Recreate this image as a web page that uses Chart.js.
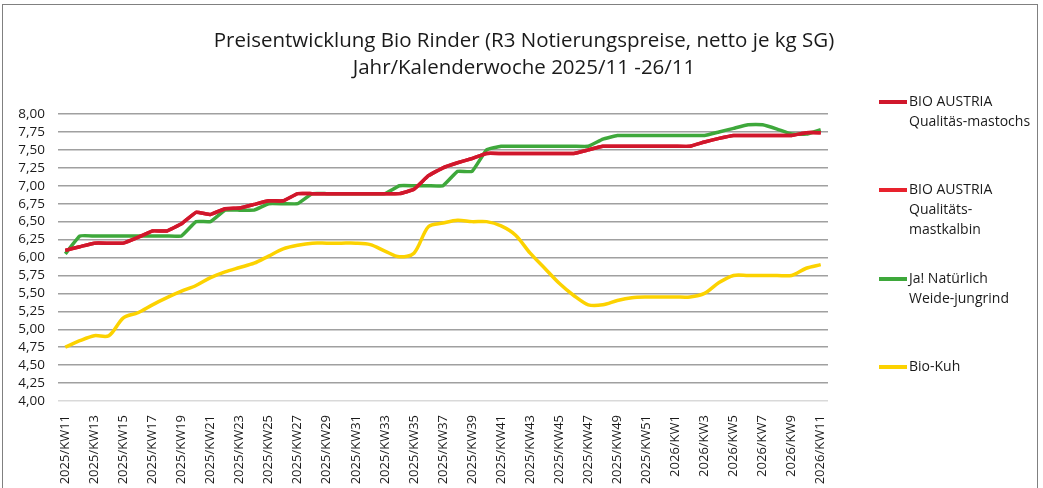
<!DOCTYPE html>
<html>
<head>
<meta charset="utf-8">
<script src="https://cdn.jsdelivr.net/npm/chart.js@4.4.1/dist/chart.umd.min.js"></script>
<style>
  body { margin: 0; width: 1043px; height: 488px; overflow: hidden; background: #fff; font-family: "Open Sans", sans-serif; }
  #frame { position: absolute; left: 2px; top: 4px; width: 1034px; height: 520px; border: 1px solid #808080; border-bottom: none; }
  #chart { position: absolute; left: 0; top: 0; }
  #title { position: absolute; left: 174px; width: 700px; top: 26px; text-align: center; font-size: 20.5px; line-height: 27px; color: #1a1a1a; white-space: nowrap; }
  .leg { position: absolute; left: 879px; font-size: 14px; line-height: 20px; color: #1a1a1a; }
  .leg span.mark { position: absolute; left: 0; top: 9px; width: 28px; height: 4px; }
  .leg div.txt { margin-left: 30px; }
</style>
</head>
<body>
<div id="frame"></div>
<canvas id="chart" width="1043" height="488"></canvas>
<div id="title">Preisentwicklung Bio Rinder (R3 Notierungspreise, netto je kg SG)<br>Jahr/Kalenderwoche 2025/11 -26/11</div>
<div id="legend"></div>
<script>
const weeks = [
  "2025/KW11","2025/KW12","2025/KW13","2025/KW14","2025/KW15","2025/KW16","2025/KW17","2025/KW18",
  "2025/KW19","2025/KW20","2025/KW21","2025/KW22","2025/KW23","2025/KW24","2025/KW25","2025/KW26",
  "2025/KW27","2025/KW28","2025/KW29","2025/KW30","2025/KW31","2025/KW32","2025/KW33","2025/KW34",
  "2025/KW35","2025/KW36","2025/KW37","2025/KW38","2025/KW39","2025/KW40","2025/KW41","2025/KW42",
  "2025/KW43","2025/KW44","2025/KW45","2025/KW46","2025/KW47","2025/KW48","2025/KW49","2025/KW50",
  "2025/KW51","2025/KW52","2026/KW1","2026/KW2","2026/KW3","2026/KW4","2026/KW5","2026/KW6",
  "2026/KW7","2026/KW8","2026/KW9","2026/KW10","2026/KW11"
];

const mastochs = [
  6.10, 6.15, 6.20, 6.20, 6.20, 6.28, 6.37, 6.37, 6.47, 6.63, 6.60, 6.68, 6.69, 6.74,
  6.79, 6.79, 6.89, 6.89, 6.89, 6.89, 6.89, 6.89, 6.89, 6.89, 6.95, 7.14, 7.25, 7.32,
  7.38, 7.45, 7.45, 7.45, 7.45, 7.45, 7.45, 7.45, 7.50, 7.55, 7.55, 7.55, 7.55, 7.55,
  7.55, 7.55, 7.61, 7.66, 7.70, 7.70, 7.70, 7.70, 7.70, 7.74, 7.74
];
const mastkalbin = [
  6.10, 6.15, 6.20, 6.20, 6.20, 6.28, 6.37, 6.37, 6.47, 6.63, 6.60, 6.68, 6.69, 6.74,
  6.79, 6.79, 6.89, 6.89, 6.89, 6.89, 6.89, 6.89, 6.89, 6.89, 6.95, 7.14, 7.25, 7.32,
  7.38, 7.45, 7.45, 7.45, 7.45, 7.45, 7.45, 7.45, 7.50, 7.55, 7.55, 7.55, 7.55, 7.55,
  7.55, 7.55, 7.61, 7.66, 7.70, 7.70, 7.70, 7.70, 7.70, 7.74, 7.74
];
const jungrind = [
  6.05, 6.30, 6.30, 6.30, 6.30, 6.30, 6.30, 6.30, 6.30, 6.50, 6.50, 6.66, 6.66, 6.66,
  6.75, 6.75, 6.75, 6.89, 6.89, 6.89, 6.89, 6.89, 6.89, 7.00, 7.00, 7.00, 7.00, 7.20,
  7.20, 7.50, 7.55, 7.55, 7.55, 7.55, 7.55, 7.55, 7.55, 7.65, 7.70, 7.70, 7.70, 7.70,
  7.70, 7.70, 7.70, 7.75, 7.80, 7.85, 7.85, 7.79, 7.72, 7.72, 7.78
];
const bioKuh = [
  4.75, 4.84, 4.91, 4.91, 5.16, 5.23, 5.34, 5.44, 5.53, 5.61, 5.72, 5.80, 5.86, 5.92,
  6.02, 6.12, 6.17, 6.20, 6.20, 6.20, 6.20, 6.18, 6.09, 6.01, 6.06, 6.43, 6.48, 6.52,
  6.50, 6.50, 6.44, 6.31, 6.06, 5.85, 5.64, 5.47, 5.34, 5.34, 5.40, 5.44, 5.45, 5.45,
  5.45, 5.45, 5.50, 5.65, 5.75, 5.75, 5.75, 5.75, 5.75, 5.85, 5.90
];

const seriesNames = [
  ["BIO AUSTRIA", "Qualitäs-mastochs"],
  ["BIO AUSTRIA", "Qualitäts-", "mastkalbin"],
  ["Ja! Natürlich", "Weide-jungrind"],
  ["Bio-Kuh"]
];
const seriesColors = ["#d0172c", "#e8222d", "#3ea83b", "#fcd200"];
const legendTops = [91, 179, 268, 356];

const line = (name, data, color, tension) => ({
  label: name.join(" "), data, borderColor: color, backgroundColor: color,
  borderWidth: 3.5, pointRadius: 0, tension
});

new Chart(document.getElementById("chart"), {
  type: "line",
  data: {
    labels: weeks,
    datasets: [
      line(seriesNames[0], mastochs, seriesColors[0], 0.1),
      line(seriesNames[1], mastkalbin, seriesColors[1], 0.1),
      line(seriesNames[2], jungrind, seriesColors[2], 0.1),
      line(seriesNames[3], bioKuh, seriesColors[3], 0.3)
    ]
  },
  options: {
    responsive: false,
    animation: false,
    layout: { padding: { top: 114, right: 215, left: 0, bottom: 0 } },
    plugins: { legend: { display: false }, tooltip: { enabled: false }, title: { display: false } },
    scales: {
      x: {
        offset: true,
        grid: { display: false },
        border: { display: false },
        afterFit: s => { s.height = 87; },
        ticks: {
          autoSkip: false, minRotation: 90, maxRotation: 90, padding: 6,
          color: "#1a1a1a", font: { family: "Open Sans", size: 13 },
          callback: (v, i) => i % 2 === 0 ? weeks[i] : ""
        }
      },
      y: {
        min: 4, max: 8,
        border: { display: false },
        afterFit: s => { s.width = 58; },
        grid: {
          drawTicks: false, lineWidth: 1.4,
          color: c => c.tick && c.tick.value === 4 ? "#d9d9d9" : "#a0a0a0"
        },
        ticks: {
          stepSize: 0.25, autoSkip: false, padding: 13, color: "#1a1a1a",
          font: { family: "Open Sans", size: 13.5 },
          callback: v => v.toFixed(2).replace(".", ",")
        }
      }
    }
  }
});

const legend = document.getElementById("legend");
seriesNames.forEach((name, i) => {
  const el = document.createElement("div");
  el.className = "leg";
  el.style.top = legendTops[i] + "px";
  el.innerHTML = '<span class="mark" style="background:' + seriesColors[i] + '"></span><div class="txt">' + name.join("<br>") + "</div>";
  legend.appendChild(el);
});
</script>
</body>
</html>
